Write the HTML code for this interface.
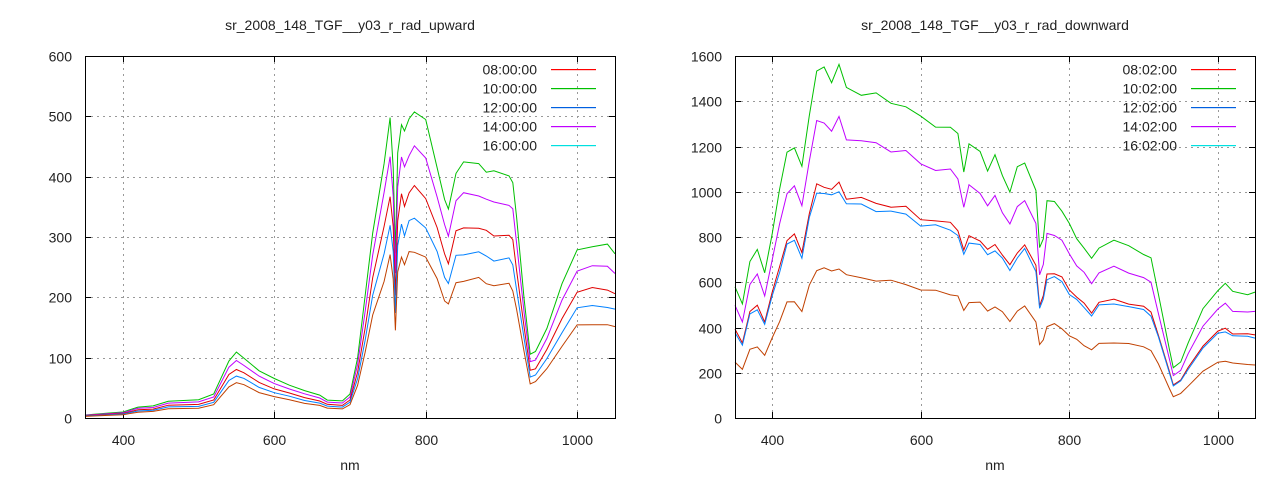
<!DOCTYPE html>
<html><head><meta charset="utf-8"><style>
body{margin:0;background:#fff;}
svg text{font-family:"Liberation Sans",sans-serif;font-size:14px;fill:#222;}
</style></head><body>
<svg id="s" width="1280" height="480" xmlns="http://www.w3.org/2000/svg"></svg>
<script>
const S=document.getElementById('s');let h='';
function plot(o){
 const {x0,x1,y0,y1,ymax,ystep,title,pts,ratios,lab}=o;
 const X=v=>x0+(v-350)/700*(x1-x0), Y=v=>y1-v/ymax*(y1-y0);
 h+=`<text x="${(x0+x1)/2}" y="30" text-anchor="middle">${title}</text>`;
 for(let v=0;v<=ymax;v+=ystep){const y=Math.round(Y(v))+0.5;
  if(v>0&&v<ymax)h+=`<line x1="${x0}" x2="${x1}" y1="${y}" y2="${y}" stroke="#999" stroke-dasharray="2,4"/>`;
  h+=`<line x1="${x0}" x2="${x0+6}" y1="${y}" y2="${y}" stroke="#000"/><line x1="${x1-6}" x2="${x1}" y1="${y}" y2="${y}" stroke="#000"/>`;
  h+=`<text x="${x0-13}" y="${y+5}" text-anchor="end">${v}</text>`;}
 for(let v=400;v<=1000;v+=200){const x=Math.round(X(v))+0.5;
  h+=`<line x1="${x}" x2="${x}" y1="${y0}" y2="${y1}" stroke="#999" stroke-dasharray="2,4"/>`;
  h+=`<line x1="${x}" x2="${x}" y1="${y1}" y2="${y1-6}" stroke="#000"/><line x1="${x}" x2="${x}" y1="${y0}" y2="${y0+6}" stroke="#000"/>`;
  h+=`<text x="${x}" y="${y1+27}" text-anchor="middle">${v}</text>`;}
 h+=`<text x="${(x0+x1)/2}" y="470" text-anchor="middle">nm</text>`;
 const cols=['#00c000','#c000ff','#e00000','#0080ff','#c04000'];
 ratios.forEach((r,i)=>{
  let p=pts.map(([a,b],k)=>X(a).toFixed(1)+','+Y(b*r*(1+0.012*Math.sin(k*2.3+i))).toFixed(1)).join(' ');
  h+=`<polyline points="${p}" fill="none" stroke="${cols[i]}" stroke-width="1"/>`;});
 const lc=['#ff0000','#00c000','#0060e0','#c000ff','#00e0e0'];
 lab.forEach((t,i)=>{const y=69.5+i*19;
  h+=`<text x="${x1-78}" y="${y+5}" text-anchor="end">${t}</text><rect x="${x1-64}" y="${y-0.5}" width="45" height="1.2" fill="${lc[i]}"/>`;});
 h+=`<rect x="${x0+0.5}" y="${y0+0.5}" width="${x1-x0}" height="${y1-y0}" fill="none" stroke="#000"/>`;
}
const up=[[350,5],[380,8],[400,10],[420,18],[440,20],[460,28],[500,30],[520,40],[540,95],[550,108],[560,100],[580,78],[600,65],[620,55],[640,45],[660,38],[670,30],[690,28],[700,40],[710,100],[720,200],[730,310],[745,420],[753,495],[757,420],[760,270],[763,440],[768,490],[772,470],[778,500],[785,508],[800,490],[815,420],[825,360],[830,345],[840,410],[850,420],[870,423],[880,410],[890,405],[910,405],[915,390],[920,330],[930,200],[938,105],[945,110],[960,150],[980,220],[1000,280],[1020,285],[1040,285],[1050,275]];
const dn=[[350,580],[360,500],[370,700],[380,740],[390,640],[400,820],[410,1000],[420,1180],[430,1200],[440,1100],[450,1350],[460,1530],[470,1540],[480,1500],[490,1550],[500,1460],[520,1440],[540,1420],[560,1400],[580,1380],[600,1320],[620,1300],[640,1280],[650,1250],[658,1100],[665,1200],[680,1180],[690,1100],[700,1150],[710,1080],[720,1000],[730,1100],[740,1140],[755,1000],[760,750],[765,800],[770,950],[780,960],[790,920],[800,850],[810,800],[820,750],[830,700],[840,760],[860,780],[880,760],[900,730],[910,700],[920,550],[935,300],[940,220],[950,250],[960,330],[980,480],[1000,570],[1010,590],[1020,560],[1040,550],[1050,550]];
plot({x0:85,x1:615,y0:56,y1:418,ymax:600,ystep:100,title:'sr_2008_148_TGF__y03_r_rad_upward',pts:up,ratios:[1,.88,.75,.65,.545],lab:['08:00:00','10:00:00','12:00:00','14:00:00','16:00:00']});
plot({x0:735,x1:1255,y0:56,y1:418,ymax:1600,ystep:200,title:'sr_2008_148_TGF__y03_r_rad_downward',pts:dn,ratios:[1,.85,.67,.65,.43],lab:['08:02:00','10:02:00','12:02:00','14:02:00','16:02:00']});
S.innerHTML=h;
</script></body></html>
